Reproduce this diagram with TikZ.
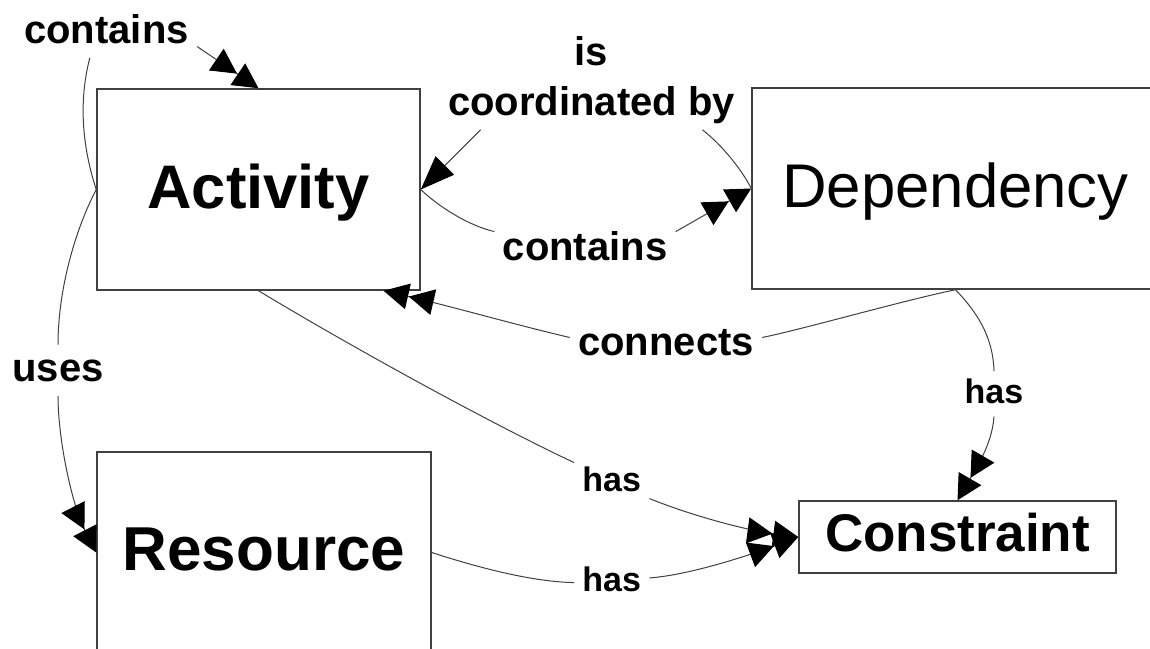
\documentclass[tikz,border=0pt]{standalone}
\usepackage{fontspec}
\setmainfont{Liberation Sans}
\usetikzlibrary{arrows.meta}
\tikzset{
  entity/.style={draw=black!75, line width=0.75pt, inner sep=0pt, text depth=0pt},
  rel/.style={font=\bfseries\fontsize{20}{24}\selectfont, inner xsep=4pt, inner ysep=3pt,
              text height=15pt, text depth=4.2pt, anchor=base},
  hasrel/.style={rel, font=\bfseries\fontsize{17}{20}\selectfont, text height=12.75pt, text depth=3.6pt},
  link/.style={draw=black!75, line width=0.5pt},
  one/.style={link, -{Triangle[length=17pt,width=13pt,color=black]}},
  many/.style={link, -{Triangle[length=12.5pt,width=13pt,sep=0.5pt,color=black]Triangle[length=12.5pt,width=13pt,color=black]}},
}
\begin{document}
\begin{tikzpicture}[x=0.5pt,y=-0.5pt]
\useasboundingbox (0,0) rectangle (1150,648);
\clip (0,0) rectangle (1150,648);

% entities
\node[entity, minimum width=161.5pt, minimum height=100.5pt, text height=18.5pt,
      font=\bfseries\fontsize{30.75}{36}\selectfont] (act) at (258.5,189.5) {Activity};
\node[entity, minimum width=203.5pt, minimum height=100.5pt, text height=18.5pt,
      font=\fontsize{30.85}{36}\selectfont] (dep) at (955.5,188.5) {Dependency};
\node[entity, minimum width=167pt, minimum height=100.5pt, text height=17.5pt,
      font=\bfseries\fontsize{31}{36}\selectfont] (res) at (264,552.5) {Resource};
\node[entity, minimum width=158.5pt, minimum height=36pt, text height=14.7pt,
      font=\bfseries\fontsize{26.5}{31}\selectfont] (con) at (957.5,537) {Constraint};

% relation labels
\node[rel] (L1) at (106.5,43) {contains};
\node[rel] (L2) at (58,381) {uses};
\node[rel] (L3a) at (591,65) {is};
\node[rel] (L3) at (591.5,115) {coordinated by};
\node[rel] (L4) at (585,260) {contains};
\node[rel] (L5) at (666,355) {connects};
\node[hasrel] (L6) at (994,403) {has};
\node[hasrel] (L7) at (611.7,491.7) {has};
\node[hasrel] (L8) at (611.7,591.7) {has};

% Activity contains Activity
\draw[link] (act.west) .. controls (80,140) and (80,95) .. (L1.-123);
\draw[many] (L1.-9) -- (act.north);
% Activity uses Resource
\draw[link] (act.west) .. controls (75,230) and (58,290) .. (L2.north);
\draw[many] (L2.south) .. controls (58,440) and (72,505) .. (res.west);
% Activity is coordinated by Dependency
\draw[link] (dep.west) .. controls (742,170) and (722,145) .. (L3.-13);
\draw[one] (L3.-167) -- (act.east);
% Activity contains Dependency
\draw[link] (act.east) .. controls (440,208) and (470,226) .. (L4.169);
\draw[many] (L4.11) -- (dep.west);
% Dependency connects Activity
\draw[link] (dep.south) .. controls (905,300) and (800,330) .. (L5.4);
\draw[many] (L5.176) .. controls (520,326) and (450,306) .. (act.-39);
% Dependency has Constraint
\draw[link] (dep.south) .. controls (975,310) and (993,335) .. (L6.north);
\draw[many] (L6.south) .. controls (992,445) and (975,470) .. (con.north);
% Activity has Constraint
\draw[link] (act.south) .. controls (360,352) and (500,428) .. (L7.152);
\draw[many] (L7.-23) .. controls (690,515) and (745,530) .. (con.west);
% Resource has Constraint
\draw[link] (res.east) .. controls (470,565) and (530,582) .. (L8.west);
\draw[many] (L8.7) .. controls (690,575) and (750,555) .. (con.west);
\end{tikzpicture}
\end{document}
